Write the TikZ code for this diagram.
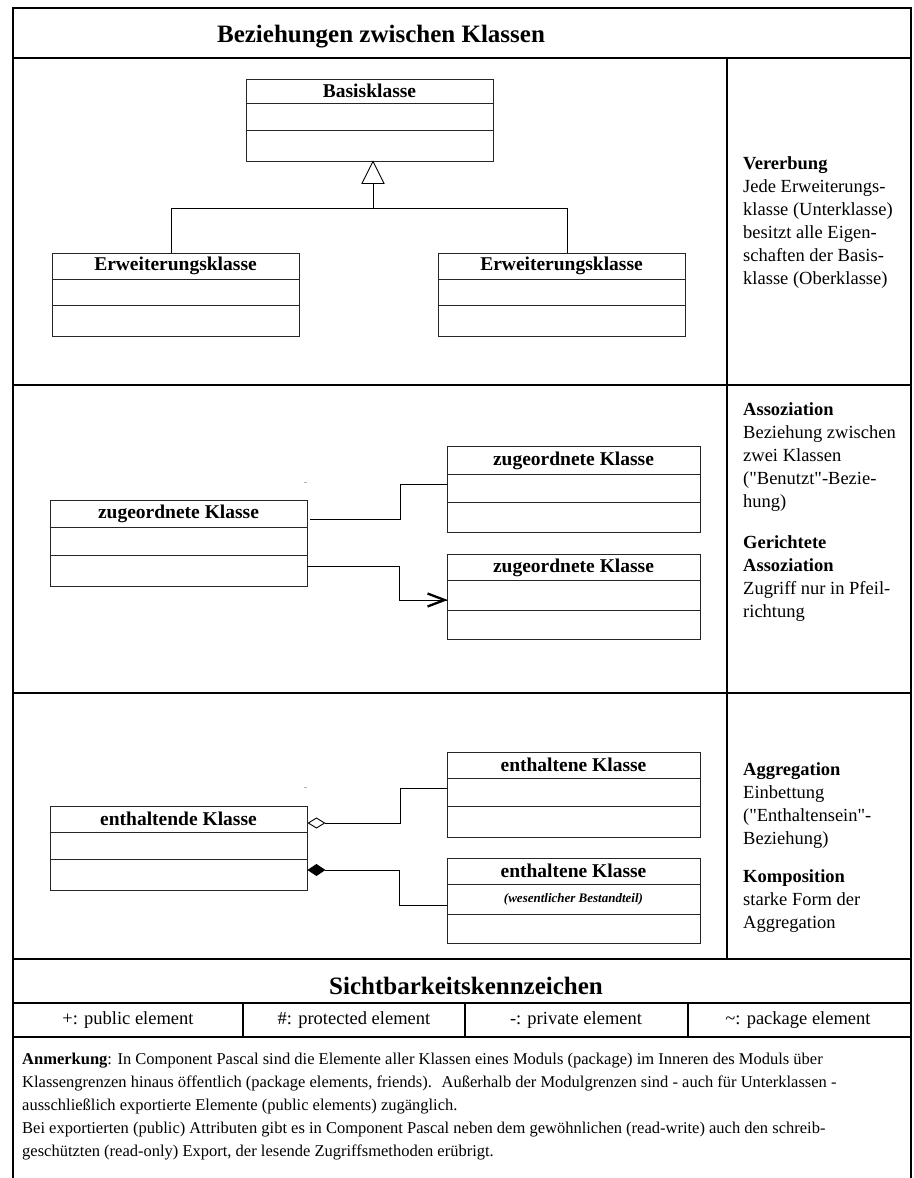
\documentclass[tikz,border=0pt]{standalone}
\usepackage{fontspec}
\setmainfont{Liberation Serif}[Ligatures=TeXOff]
\usetikzlibrary{arrows.meta,calc}
\begin{document}
\begin{tikzpicture}[x=1pt,y=-1pt,
  frame/.style={line width=1.1pt, draw=black},
  cls/.style={draw=black!85, line width=0.9pt, rectangle, inner sep=0pt, fill=white},
  cline/.style={draw=black!85, line width=0.9pt},
  ctitle/.style={font=\fontsize{19.5}{22}\selectfont\bfseries, inner sep=0pt},
  csub/.style={font=\fontsize{13}{14}\selectfont\bfseries\itshape, inner sep=0pt},
  conn/.style={line width=0.9pt, draw=black},
  barb/.style={line width=2.3pt, draw=black, line join=miter, line cap=butt},
  desc/.style={font=\fontsize{18.5}{23}\selectfont, align=left, anchor=north west, inner sep=0pt},
  ttl/.style={font=\fontsize{25}{28}\selectfont\bfseries, inner sep=0pt},
  vtxt/.style={font=\fontsize{18.5}{22}\selectfont, inner sep=0pt},
  note/.style={font=\fontsize{16.5}{23}\selectfont, align=left, anchor=north west, inner sep=0pt}
]
\useasboundingbox (0,0) rectangle (913,1178);

% frame and grid
\draw[frame] (13,1178) -- (13,8) -- (911,8) -- (911,1178);
\draw[frame] (13,58) -- (911,58);
\draw[frame] (13,385) -- (911,385);
\draw[frame] (13,693) -- (911,693);
\draw[frame] (13,959) -- (911,959);
\draw[frame] (13,1003) -- (911,1003);
\draw[frame] (13,1037) -- (911,1037);
\draw[frame] (727,58) -- (727,959);
\draw[frame] (243,1003) -- (243,1037);
\draw[frame] (465,1003) -- (465,1037);
\draw[frame] (688,1003) -- (688,1037);

% titles
\node[ttl] (title) at (381,37) {Beziehungen zwischen Klassen};
\node[ttl] (vis) at (466,986) {Sichtbarkeitskennzeichen};

% visibility
\node[vtxt] (v1) at (128,1020) {+: public element};
\node[vtxt] (v2) at (354,1020) {\#: protected element};
\node[vtxt] (v3) at (576,1020) {-: private element};
\node[vtxt] (v4) at (798,1020) {\textasciitilde: package element};

% note
\node[note] (anm) at (22,1053) {\textbf{Anmerkung}: In Component Pascal sind die Elemente aller Klassen eines Moduls (package) im Inneren des Moduls über\\
Klassengrenzen hinaus öffentlich (package elements, friends).~ Außerhalb der Modulgrenzen sind - auch für Unterklassen -\\
ausschließlich exportierte Elemente (public elements) zugänglich.\\
Bei exportierten (public) Attributen gibt es in Component Pascal neben dem gewöhnlichen (read-write) auch den schreib-\\
geschützten (read-only) Export, der lesende Zugriffsmethoden erübrigt.};

% ---- Section 1: Vererbung
\node[cls, minimum width=247pt, minimum height=82pt] (basis) at (369.5,120) {};
\draw[cline] (basis.west |- 0,103) -- (basis.east |- 0,103);
\draw[cline] (basis.west |- 0,130) -- (basis.east |- 0,130);
\node[ctitle] at (369.5,91) {Basisklasse};

\node[cls, minimum width=247pt, minimum height=83pt] (eL) at (175.5,294.5) {};
\draw[cline] (eL.west |- 0,279) -- (eL.east |- 0,279);
\draw[cline] (eL.west |- 0,305) -- (eL.east |- 0,305);
\node[ctitle] at (175.5,266) {Erweiterungsklasse};

\node[cls, minimum width=247pt, minimum height=83pt] (eR) at (561.5,294.5) {};
\draw[cline] (eR.west |- 0,279) -- (eR.east |- 0,279);
\draw[cline] (eR.west |- 0,305) -- (eR.east |- 0,305);
\node[ctitle] at (561.5,266) {Erweiterungsklasse};

\coordinate (jL) at (171,208);
\coordinate (jR) at (567,208);
\coordinate (tb) at (373,183);
\draw[conn] (eL.north -| jL) -- (jL) -- (jR) -- (eR.north -| jR);
\draw[conn] (tb |- jL) -- (tb);
\draw[conn, fill=white] (basis.south -| tb) -- ++(-11,22) -- ++(22,0) -- cycle;

\node[desc] (t1) at (743,156) {\textbf{Vererbung}\\Jede Erweiterungs-\\klasse (Unterklasse)\\besitzt alle Eigen-\\schaften der Basis-\\klasse (Oberklasse)};

% ---- Section 2: Assoziation
\node[cls, minimum width=257pt, minimum height=86pt] (z0) at (178.5,543) {};
\draw[cline] (z0.west |- 0,527) -- (z0.east |- 0,527);
\draw[cline] (z0.west |- 0,555) -- (z0.east |- 0,555);
\node[ctitle] at (178.5,514) {zugeordnete Klasse};

\node[cls, minimum width=253pt, minimum height=86pt] (z1) at (573.5,489) {};
\draw[cline] (z1.west |- 0,474) -- (z1.east |- 0,474);
\draw[cline] (z1.west |- 0,502) -- (z1.east |- 0,502);
\node[ctitle] at (573.5,461) {zugeordnete Klasse};

\node[cls, minimum width=253pt, minimum height=85pt] (z2) at (573.5,596.5) {};
\draw[cline] (z2.west |- 0,580) -- (z2.east |- 0,580);
\draw[cline] (z2.west |- 0,610) -- (z2.east |- 0,610);
\node[ctitle] at (573.5,568) {zugeordnete Klasse};

\coordinate (a1) at (400,519);
\coordinate (a2) at (400,484);
\draw[conn] ([xshift=3pt]z0.east |- a1) -- (a1) -- (a2) -- (z1.west |- a2);
\coordinate (d1) at (399,566);
\coordinate (d2) at (399,600);
\coordinate (ah) at ([xshift=-2pt]z2.west |- d2);
\draw[conn] (z0.east |- d1) -- (d1) -- (d2) -- (z2.west |- d2);
\draw[barb] ($(ah)+(-17,-6.5)$) -- (ah) -- ($(ah)+(-17,6.5)$);
\draw[gray!60, line width=0.6pt] (304,482) -- (307,482);

\node[desc] (t2) at (743,402) {\textbf{Assoziation}\\Beziehung zwischen\\zwei Klassen\\("Benutzt"-Bezie-\\hung)};
\node[desc] (t3) at (743,535) {\textbf{Gerichtete}\\\textbf{Assoziation}\\Zugriff nur in Pfeil-\\richtung};

% ---- Section 3: Aggregation
\node[cls, minimum width=257pt, minimum height=84pt] (e0) at (178.5,848) {};
\draw[cline] (e0.west |- 0,832) -- (e0.east |- 0,832);
\draw[cline] (e0.west |- 0,859) -- (e0.east |- 0,859);
\node[ctitle] at (178.5,819) {enthaltende Klasse};

\node[cls, minimum width=253pt, minimum height=85pt] (e1) at (573.5,794.5) {};
\draw[cline] (e1.west |- 0,778) -- (e1.east |- 0,778);
\draw[cline] (e1.west |- 0,806) -- (e1.east |- 0,806);
\node[ctitle] at (573.5,765) {enthaltene Klasse};

\node[cls, minimum width=253pt, minimum height=85pt] (e2) at (573.5,900.5) {};
\draw[cline] (e2.west |- 0,884) -- (e2.east |- 0,884);
\draw[cline] (e2.west |- 0,914) -- (e2.east |- 0,914);
\node[ctitle] at (573.5,871) {enthaltene Klasse};
\node[csub] at (573.5,899) {(wesentlicher Bestandteil)};

\coordinate (g1) at (400,823);
\coordinate (g2) at (400,788);
\draw[conn, {Diamond[open,length=18pt,width=11pt,line width=0.9pt]}-] (e0.east |- g1) -- (g1) -- (g2) -- (e1.west |- g2);
\coordinate (c1) at (399,870);
\coordinate (c2) at (399,905);
\draw[conn, {Diamond[length=18pt,width=12pt]}-] (e0.east |- c1) -- (c1) -- (c2) -- (e2.west |- c2);
\draw[gray!60, line width=0.6pt] (304,787) -- (307,787);

\node[desc] (t4) at (743,762) {\textbf{Aggregation}\\Einbettung\\("Enthaltensein"-\\Beziehung)};
\node[desc] (t5) at (743,869) {\textbf{Komposition}\\starke Form der\\Aggregation};

\end{tikzpicture}
\end{document}
